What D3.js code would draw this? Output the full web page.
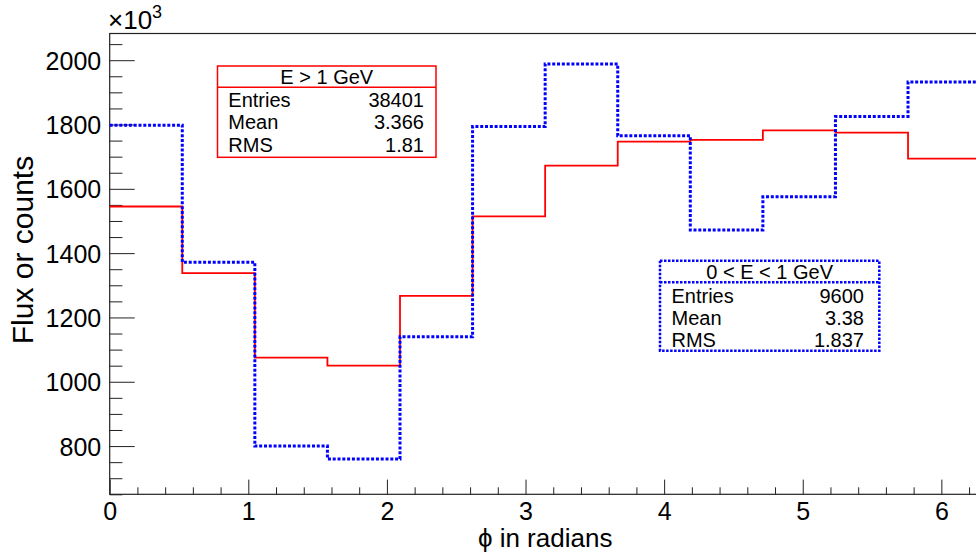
<!DOCTYPE html>
<html>
<head>
<meta charset="utf-8">
<script src="https://cdn.jsdelivr.net/npm/d3@7"></script>
<style>
  html, body { margin: 0; padding: 0; background: #fff; }
  svg { display: block; font-family: "Liberation Sans", Arial, Helvetica, sans-serif; }
</style>
</head>
<body>
<svg id="chart" width="976" height="557"></svg>
<script>
// Histogram binning in phi (radians)
const phiMin = 0;
const phiMax = 2 * Math.PI;
const nBins = 12;

// Bin contents, in units of 10^3
const highEnergy = [1545, 1338, 1075, 1050, 1267, 1514, 1672, 1747, 1752, 1782, 1775, 1694];
const lowEnergy  = [1798, 1372, 800, 760, 1140, 1794, 1988, 1765, 1472, 1575, 1825, 1932];

// Axis ticks
const yMajorTicks = [800, 1000, 1200, 1400, 1600, 1800, 2000];
const xMajorTicks = [0, 1, 2, 3, 4, 5, 6];

// Statistics boxes
const highStats = { title: "E > 1 GeV", rows: [["Entries", "38401"], ["Mean", "3.366"], ["RMS", "1.81"]] };
const lowStats  = { title: "0 < E < 1 GeV", rows: [["Entries", "9600"], ["Mean", "3.38"], ["RMS", "1.837"]] };

const svg = d3.select("#chart");
const plotLeft = 109.7, plotRight = 980.6, plotTop = 33.5, plotBottom = 494.3;

const x = d3.scaleLinear().domain([phiMin, phiMax]).range([plotLeft, plotRight]);
const y = d3.scaleLinear().domain([650, 2083]).range([plotBottom, plotTop]);

// Frame
svg.append("rect")
  .attr("x", plotLeft).attr("y", plotTop)
  .attr("width", plotRight - plotLeft).attr("height", plotBottom - plotTop)
  .attr("fill", "none").attr("stroke", "#222").attr("stroke-width", 1.2);

// Y axis: major + minor ticks
const yMinor = d3.range(650, 2083, 50).filter(v => !yMajorTicks.includes(v));
svg.append("g").attr("transform", `translate(${plotLeft},0)`)
  .call(d3.axisLeft(y).tickValues(yMinor).tickSize(-12.7).tickSizeOuter(0).tickFormat(""))
  .call(g => g.select(".domain").remove())
  .call(g => g.selectAll("line").attr("stroke", "#222"));
svg.append("g").attr("transform", `translate(${plotLeft},0)`)
  .call(d3.axisLeft(y).tickValues(yMajorTicks).tickSize(-25).tickSizeOuter(0).tickPadding(8.5).tickFormat(d3.format("d")))
  .call(g => g.select(".domain").remove())
  .call(g => g.selectAll("line").attr("stroke", "#222"))
  .call(g => g.selectAll("text").attr("font-size", 25).attr("fill", "#000")
    .attr("font-family", "'Liberation Sans', Arial, sans-serif").attr("dy", "0.36em"));

// X axis: major + minor ticks
const xMinor = d3.range(0.2, phiMax, 0.2).filter(v => Math.abs(v - Math.round(v)) > 1e-6);
svg.append("g").attr("transform", `translate(0,${plotBottom})`)
  .call(d3.axisBottom(x).tickValues(xMinor).tickSize(-7).tickSizeOuter(0).tickFormat(""))
  .call(g => g.select(".domain").remove())
  .call(g => g.selectAll("line").attr("stroke", "#222"));
svg.append("g").attr("transform", `translate(0,${plotBottom})`)
  .call(d3.axisBottom(x).tickValues(xMajorTicks).tickSize(-14.7).tickSizeOuter(0).tickPadding(7.7).tickFormat(d3.format("d")))
  .call(g => g.select(".domain").remove())
  .call(g => g.selectAll("line").attr("stroke", "#222"))
  .call(g => g.selectAll("text").attr("font-size", 25).attr("fill", "#000")
    .attr("font-family", "'Liberation Sans', Arial, sans-serif"));

// Axis titles
svg.append("text")
  .attr("x", (plotLeft + plotRight) / 2).attr("y", 547)
  .attr("text-anchor", "middle").attr("font-size", 26)
  .text("\u03D5 in radians");
svg.append("text")
  .attr("transform", "translate(33,250) rotate(-90)")
  .attr("text-anchor", "middle").attr("font-size", 30)
  .text("Flux or counts");

// Exponent label
const expo = svg.append("text").attr("x", 108).attr("y", 29).attr("font-size", 26);
expo.append("tspan").text("\u00D710");
expo.append("tspan").attr("font-size", 18).attr("dy", -11).text("3");

// Step histograms
function stepPoints(values) {
  const w = (phiMax - phiMin) / nBins;
  const pts = values.map((v, i) => [phiMin + i * w, v]);
  pts.push([phiMax, values[values.length - 1]]);
  return pts;
}
const step = d3.line().x(d => x(d[0])).y(d => y(d[1])).curve(d3.curveStepAfter);

svg.append("path")
  .attr("d", step(stepPoints(highEnergy)))
  .attr("fill", "none").attr("stroke", "#ff0000").attr("stroke-width", 1.8);

svg.append("path")
  .attr("d", step(stepPoints(lowEnergy)))
  .attr("fill", "none").attr("stroke", "#0000ff").attr("stroke-width", 3)
  .attr("stroke-dasharray", "3,1.8");

// Statistics boxes
function statsBox(stats, box, color, dashed) {
  const g = svg.append("g");
  const sw = dashed ? 2.5 : 1.5;
  const r = g.append("rect").attr("x", box.x0).attr("y", box.y0)
    .attr("width", box.x1 - box.x0).attr("height", box.y1 - box.y0)
    .attr("fill", "#fff").attr("stroke", color).attr("stroke-width", sw);
  const sep = g.append("line").attr("x1", box.x0).attr("x2", box.x1)
    .attr("y1", box.sep).attr("y2", box.sep)
    .attr("stroke", color).attr("stroke-width", sw);
  if (dashed) { r.attr("stroke-dasharray", "2.5,1.5"); sep.attr("stroke-dasharray", "2.5,1.5"); }
  g.append("text").attr("x", (box.x0 + box.x1) / 2).attr("y", box.titleY)
    .attr("text-anchor", "middle").attr("font-size", 20).text(stats.title);
  stats.rows.forEach((row, i) => {
    g.append("text").attr("x", box.tx0).attr("y", box.rowY[i])
      .attr("font-size", 20).text(row[0]);
    g.append("text").attr("x", box.tx1).attr("y", box.rowY[i])
      .attr("text-anchor", "end").attr("font-size", 20).text(row[1]);
  });
}
statsBox(highStats, { x0: 217.5, x1: 436, y0: 66, y1: 157.3, sep: 87.3, titleY: 83.5,
  tx0: 228.3, tx1: 424, rowY: [106.5, 128.5, 151.5] }, "#ff0000", false);
statsBox(lowStats, { x0: 660, x1: 879.3, y0: 260.7, y1: 350.7, sep: 282.3, titleY: 279,
  tx0: 671.5, tx1: 864, rowY: [302.8, 324.8, 347.2] }, "#0000ff", true);
</script>
</body>
</html>
